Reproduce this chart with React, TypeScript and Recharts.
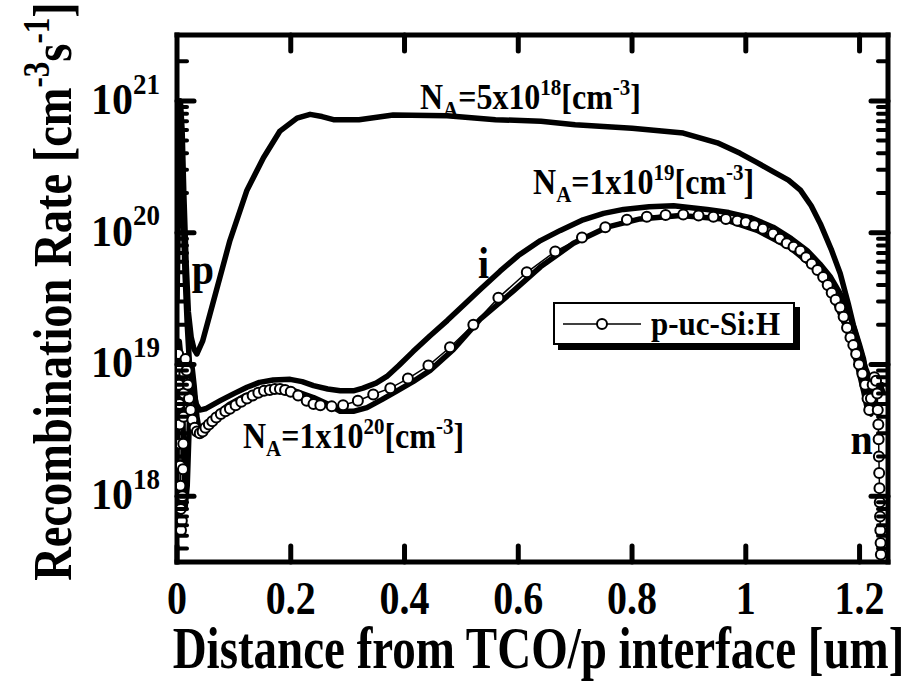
import React from 'react';
import { LineChart, Line, XAxis, YAxis, Legend, ReferenceDot } from 'recharts';

const FONT = '"Liberation Serif", "Times New Roman", Times, serif';

// distance from TCO/p interface [um]  /  recombination rate [cm^-3 s^-1]
const xNa5e18 = [0, 0.003, 0.006, 0.009, 0.012, 0.016, 0.02, 0.025, 0.03, 0.035, 0.045, 0.063, 0.093, 0.123, 0.152, 0.181, 0.211, 0.234, 0.255, 0.275, 0.32, 0.38, 0.475, 0.56, 0.64, 0.7, 0.8, 0.89, 0.95, 0.99, 1.02, 1.048, 1.075, 1.096, 1.115, 1.131, 1.15, 1.166, 1.18, 1.189, 1.2, 1.207, 1.212, 1.216, 1.22, 1.228, 1.236, 1.242];
const rNa5e18 = [3e20, 9e20, 1e21, 6e20, 2e20, 6e19, 2.5e19, 1.6e19, 1.3e19, 1.2e19, 1.5e19, 2.9e19, 8.7e19, 2.1e20, 3.7e20, 5.9e20, 7.4e20, 7.9e20, 7.6e20, 7.2e20, 7.2e20, 7.8e20, 7.7e20, 7.2e20, 7.0e20, 6.6e20, 6.2e20, 5.7e20, 4.8e20, 4.0e20, 3.4e20, 2.9e20, 2.5e20, 2.1e20, 1.6e20, 1.17e20, 7.5e19, 4.9e19, 2.9e19, 2.0e19, 1.4e19, 1.1e19, 8e18, 6e18, 7e18, 7.5e18, 7e18, 6e18];

const xNa1e19 = [0, 0.003, 0.006, 0.01, 0.014, 0.018, 0.022, 0.028, 0.034, 0.04, 0.05, 0.076, 0.1, 0.123, 0.145, 0.169, 0.199, 0.22, 0.24, 0.265, 0.287, 0.31, 0.327, 0.35, 0.369, 0.39, 0.415, 0.445, 0.475, 0.505, 0.533, 0.568, 0.6, 0.639, 0.674, 0.714, 0.75, 0.785, 0.83, 0.873, 0.932, 0.97, 1.008, 1.048, 1.08, 1.108, 1.13, 1.149, 1.165, 1.179, 1.19, 1.201, 1.21, 1.219, 1.226, 1.233, 1.24];
const rNa1e19 = [3e19, 2e20, 5e20, 2e20, 5e19, 2e19, 1e19, 6.5e18, 5e18, 4.5e18, 4.6e18, 5.3e18, 6e18, 6.7e18, 7.3e18, 7.6e18, 7.7e18, 7.4e18, 6.9e18, 6.5e18, 6.3e18, 6.3e18, 6.6e18, 7.2e18, 8.1e18, 9.8e18, 1.25e19, 1.65e19, 2.15e19, 2.85e19, 3.7e19, 5.1e19, 6.7e19, 8.7e19, 1.04e20, 1.25e20, 1.4e20, 1.5e20, 1.57e20, 1.6e20, 1.5e20, 1.42e20, 1.3e20, 1.1e20, 9e19, 7.3e19, 5.8e19, 4.6e19, 3.5e19, 2.6e19, 1.9e19, 1.3e19, 9.5e18, 7.5e18, 6.5e18, 7e18, 7e18];

const xNa1e20 = [0, 0.004, 0.008, 0.011, 0.014, 0.018, 0.022, 0.026, 0.03, 0.035, 0.04, 0.046, 0.055, 0.07, 0.093, 0.12, 0.151, 0.175, 0.193, 0.215, 0.24, 0.265, 0.287, 0.31, 0.334, 0.36, 0.387, 0.415, 0.445, 0.486, 0.533, 0.591, 0.639, 0.697, 0.756, 0.814, 0.885, 0.96, 1.02, 1.078, 1.126, 1.154, 1.179, 1.196, 1.207, 1.214, 1.22, 1.228, 1.236, 1.242];
const rNa1e20 = [8e18, 1.5e19, 1e19, 3e18, 8e17, 1.2e18, 4e18, 1e19, 7e18, 4e18, 3e18, 3.1e18, 3.5e18, 4.2e18, 5e18, 5.8e18, 6.3e18, 6.6e18, 6.6e18, 6.1e18, 5.6e18, 5e18, 4.4e18, 4.4e18, 4.7e18, 5.4e18, 6.3e18, 7.4e18, 9e18, 1.3e19, 2.2e19, 3.6e19, 5.5e19, 8.3e19, 1.1e20, 1.27e20, 1.35e20, 1.27e20, 1.04e20, 7.7e19, 5.2e19, 3.2e19, 1.8e19, 1e19, 6.3e18, 4.5e18, 4.2e18, 5.5e18, 7e18, 7e18];

const xPuc = [0.002, 0.003, 0.0035, 0.004, 0.0045, 0.005, 0.0055, 0.006, 0.0065, 0.007, 0.0085, 0.0095, 0.0105, 0.011, 0.0115, 0.012, 0.013, 0.015, 0.017, 0.019, 0.021, 0.024, 0.027, 0.031, 0.035, 0.04, 0.045, 0.05, 0.056, 0.062, 0.069, 0.077, 0.085, 0.093, 0.103, 0.113, 0.123, 0.133, 0.143, 0.153, 0.163, 0.172, 0.181, 0.19, 0.2, 0.213, 0.228, 0.24, 0.252, 0.272, 0.292, 0.318, 0.345, 0.375, 0.406, 0.442, 0.48, 0.521, 0.565, 0.615, 0.665, 0.712, 0.753, 0.791, 0.826, 0.859, 0.89, 0.917, 0.943, 0.965, 0.985, 1.0, 1.015, 1.03, 1.048, 1.06, 1.072, 1.084, 1.096, 1.106, 1.116, 1.126, 1.136, 1.144, 1.151, 1.158, 1.166, 1.172, 1.178, 1.184, 1.189, 1.194, 1.199, 1.205, 1.21, 1.214, 1.217, 1.22, 1.223, 1.226, 1.229, 1.231, 1.232, 1.233, 1.2335, 1.234, 1.2345, 1.235, 1.2355, 1.236, 1.2365, 1.237, 1.2375];
const rPuc = [1.2e19, 9e18, 7e18, 5e18, 3.5e18, 2.5e18, 1.7e18, 1.2e18, 8e17, 5.5e17, 6.5e17, 1e18, 1.6e18, 2.5e18, 4e18, 6e18, 8.5e18, 1.1e19, 9e18, 7e18, 5.5e18, 4.5e18, 3.8e18, 3.3e18, 3.1e18, 3.0e18, 3.1e18, 3.3e18, 3.5e18, 3.7e18, 3.95e18, 4.2e18, 4.4e18, 4.6e18, 4.9e18, 5.2e18, 5.5e18, 5.8e18, 6.1e18, 6.3e18, 6.4e18, 6.5e18, 6.5e18, 6.4e18, 6.2e18, 5.8e18, 5.3e18, 5.0e18, 4.9e18, 4.8e18, 4.9e18, 5.3e18, 5.9e18, 6.6e18, 7.8e18, 9.8e18, 1.35e19, 2.0e19, 3.2e19, 5.0e19, 7.2e19, 9.2e19, 1.1e20, 1.25e20, 1.32e20, 1.36e20, 1.37e20, 1.35e20, 1.32e20, 1.27e20, 1.23e20, 1.2e20, 1.14e20, 1.07e20, 9.8e19, 9e19, 8.3e19, 7.8e19, 7.3e19, 6.5e19, 5.8e19, 5.2e19, 4.6e19, 4e19, 3.5e19, 3.1e19, 2.7e19, 2.3e19, 1.9e19, 1.6e19, 1.4e19, 1.2e19, 1e19, 8.5e18, 7e18, 5.5e18, 4.5e18, 5.5e18, 7e18, 8e18, 7.5e18, 6e18, 4.5e18, 3.5e18, 2.7e18, 2e18, 1.5e18, 1.15e18, 9e17, 7e17, 5.5e17, 4.4e17, 3.6e17];

const xTicks = [0, 0.2, 0.4, 0.6, 0.8, 1, 1.2];
const xTickLabels = ['0', '0.2', '0.4', '0.6', '0.8', '1', '1.2'];
const yMajor = [1e18, 1e19, 1e20, 1e21];
const yExponents = ['18', '19', '20', '21'];
const yMinor = [4e17, 5e17, 6e17, 7e17, 8e17, 9e17,
  2e18, 3e18, 4e18, 5e18, 6e18, 7e18, 8e18, 9e18,
  2e19, 3e19, 4e19, 5e19, 6e19, 7e19, 8e19, 9e19,
  2e20, 3e20, 4e20, 5e20, 6e20, 7e20, 8e20, 9e20, 2e21];
const yTicks = [...yMajor, ...yMinor].sort((a, b) => a - b);
const yDomain = [10 ** 17.5, 10 ** 21.5];

// text annotations placed in data coordinates
const dopingNotes = [
  { x: 0.427, y: 8.7e20, mant: '5', exp: '18' },
  { x: 0.626, y: 1.97e20, mant: '1', exp: '19' },
  { x: 0.116, y: 2.31e18, mant: '1', exp: '20' },
];
const layerNotes = [
  { x: 0.026, y: 4.1e19, text: 'p' },
  { x: 0.529, y: 4.5e19, text: 'i' },
  { x: 1.184, y: 2.1e18, text: 'n' },
];

const pts = (xs: number[], ys: number[]) => xs.map((x, i) => ({ x, r: ys[i] }));
const na5e18 = pts(xNa5e18, rNa5e18);
const na1e19 = pts(xNa1e19, rNa1e19);
const na1e20 = pts(xNa1e20, rNa1e20);
const puc = pts(xPuc, rPuc);

const frame = { stroke: '#000', strokeWidth: 5, strokeLinecap: 'square' as const };

// bold serif text, stretched vertically about its baseline like the original figure
const Txt = ({ x, y, size, sy = 1, anchor = 'start', rotate = 0, children }: any) => (
  <text transform={`translate(${x},${y}) rotate(${rotate}) scale(1,${sy})`} x={0} y={0}
    textAnchor={anchor} fontFamily={FONT} fontWeight="bold" fontSize={size} fill="#000">
    {children}
  </text>
);

const BottomTick = ({ x, y, payload }: any) => {
  const i = xTicks.indexOf(payload.value);
  return (
    <g>
      <line x1={x} x2={x} y1={y} y2={y - 16} stroke="#000" strokeWidth={5} strokeLinecap="round" />
      <Txt x={x} y={y + 52} size={40} sy={1.18} anchor="middle">{xTickLabels[i]}</Txt>
    </g>
  );
};

const TopTick = ({ x, y }: any) => (
  <line x1={x} x2={x} y1={y} y2={y + 16} stroke="#000" strokeWidth={5} strokeLinecap="round" />
);

const LeftTick = ({ x, y, payload }: any) => {
  const k = yMajor.indexOf(payload.value);
  if (k < 0) return <line x1={x} x2={x + 10} y1={y} y2={y} stroke="#000" strokeWidth={4} strokeLinecap="round" />;
  return (
    <g>
      <line x1={x} x2={x + 17} y1={y} y2={y} stroke="#000" strokeWidth={5} strokeLinecap="round" />
      <Txt x={x - 17} y={y + 13} size={42} sy={1.06} anchor="end">
        10<tspan dy={-19} fontSize={27}>{yExponents[k]}</tspan>
      </Txt>
    </g>
  );
};

const RightTick = ({ x, y, payload }: any) => {
  const major = yMajor.includes(payload.value);
  return <line x1={x} x2={x - (major ? 17 : 10)} y1={y} y2={y} stroke="#000" strokeWidth={major ? 5 : 4} strokeLinecap="round" />;
};

const XTitle = ({ viewBox }: any) => (
  <Txt x={viewBox.x + viewBox.width / 2 + 6} y={viewBox.y + 106} size={47} sy={1.25} anchor="middle">
    Distance from TCO/p interface [um]
  </Txt>
);

const YTitle = ({ viewBox }: any) => (
  <Txt x={viewBox.x + 14} y={viewBox.y + viewBox.height / 2 - 7} size={46.5} sy={1.2} anchor="middle" rotate={-90}>
    Recombination Rate [cm<tspan dy={-18} fontSize={31}>-3</tspan>
    <tspan dy={18}>s</tspan><tspan dy={-18} fontSize={31}>-1</tspan><tspan dy={18}>]</tspan>
  </Txt>
);

const DopingLabel = (n: typeof dopingNotes[number]) => ({ viewBox }: any) => (
  <Txt x={viewBox.x} y={viewBox.y} size={32} sy={1.1}>
    N<tspan dy={7} fontSize={21}>A</tspan>
    <tspan dy={-7}>={n.mant}x10</tspan>
    <tspan dy={-13} fontSize={21}>{n.exp}</tspan>
    <tspan dy={13}>[cm</tspan>
    <tspan dy={-13} fontSize={21}>-3</tspan>
    <tspan dy={13}>]</tspan>
  </Txt>
);

const LayerLabel = (n: typeof layerNotes[number]) => ({ viewBox }: any) => (
  <Txt x={viewBox.x} y={viewBox.y} size={40} sy={1.12}>{n.text}</Txt>
);

const LegendBox = ({ payload }: any) => {
  const items = (payload || []).filter((p: any) => p.type !== 'none');
  return (
    <div>
      {items.map((p: any) => (
        <div key={p.value} style={{
          boxSizing: 'border-box', width: 242, height: 43, border: '2px solid #000',
          boxShadow: '5px 5px 0 #000', background: '#fff', display: 'flex', alignItems: 'center',
        }}>
          <svg width={88} height={20} style={{ marginLeft: 8 }}>
            <line x1={0} x2={78} y1={10} y2={10} stroke="#000" strokeWidth={1.5} />
            <circle cx={39} cy={10} r={5} fill="#fff" stroke="#000" strokeWidth={2} />
          </svg>
          <span style={{
            fontFamily: FONT, fontWeight: 'bold', fontSize: 31, color: '#000', lineHeight: 1,
            display: 'inline-block', transform: 'scaleY(1.12)',
          }}>
            {p.value}
          </span>
        </div>
      ))}
    </div>
  );
};

export default function App() {
  return (
    <div style={{ position: 'absolute', left: 0, top: 0, background: '#fff' }}>
      <LineChart width={909} height={681} margin={{ top: 29, right: 15, bottom: 59, left: 57 }}>
        <XAxis dataKey="x" type="number" domain={[0, 1.25]} allowDataOverflow ticks={xTicks} interval={0}
          tickSize={0} tickMargin={0} height={60} axisLine={frame} tickLine={false} tick={BottomTick}
          label={{ content: XTitle }} />
        <XAxis xAxisId="top" orientation="top" dataKey="x" type="number" domain={[0, 1.25]} allowDataOverflow
          ticks={xTicks.slice(1)} interval={0} tickSize={0} tickMargin={0} height={6} axisLine={frame}
          tickLine={false} tick={TopTick} />
        <YAxis type="number" scale="log" domain={yDomain} allowDataOverflow ticks={yTicks} interval={0}
          tickSize={0} tickMargin={0} width={120} axisLine={frame} tickLine={false} tick={LeftTick}
          label={{ content: YTitle }} />
        <YAxis yAxisId="right" orientation="right" type="number" scale="log" domain={yDomain} allowDataOverflow
          ticks={yTicks} interval={0} tickSize={0} tickMargin={0} width={6} axisLine={frame}
          tickLine={false} tick={RightTick} />
        <Legend layout="vertical" verticalAlign="middle" align="center" content={LegendBox}
          wrapperStyle={{ left: 553, top: 302, width: 250 }} />
        <Line data={na5e18} dataKey="r" xAxisId="top" yAxisId="right" type="linear" stroke="#000" strokeWidth={5.5}
          dot={false} legendType="none" isAnimationActive={false} strokeLinejoin="round" />
        <Line data={na1e19} dataKey="r" type="linear" stroke="#000" strokeWidth={5.5}
          dot={false} legendType="none" isAnimationActive={false} strokeLinejoin="round" />
        <Line data={na1e20} dataKey="r" type="linear" stroke="#000" strokeWidth={5.5}
          dot={false} legendType="none" isAnimationActive={false} strokeLinejoin="round" />
        <Line data={puc} dataKey="r" name="p-uc-Si:H" type="linear" stroke="#000" strokeWidth={1.5}
          dot={{ r: 5, fill: '#fff', stroke: '#000', strokeWidth: 2 }} isAnimationActive={false} />
        {dopingNotes.map((n) => (
          <ReferenceDot key={n.exp} x={n.x} y={n.y} r={0} fill="none" stroke="none" ifOverflow="visible"
            label={{ content: DopingLabel(n) }} />
        ))}
        {layerNotes.map((n) => (
          <ReferenceDot key={n.text} x={n.x} y={n.y} r={0} fill="none" stroke="none" ifOverflow="visible"
            label={{ content: LayerLabel(n) }} />
        ))}
      </LineChart>
    </div>
  );
}
